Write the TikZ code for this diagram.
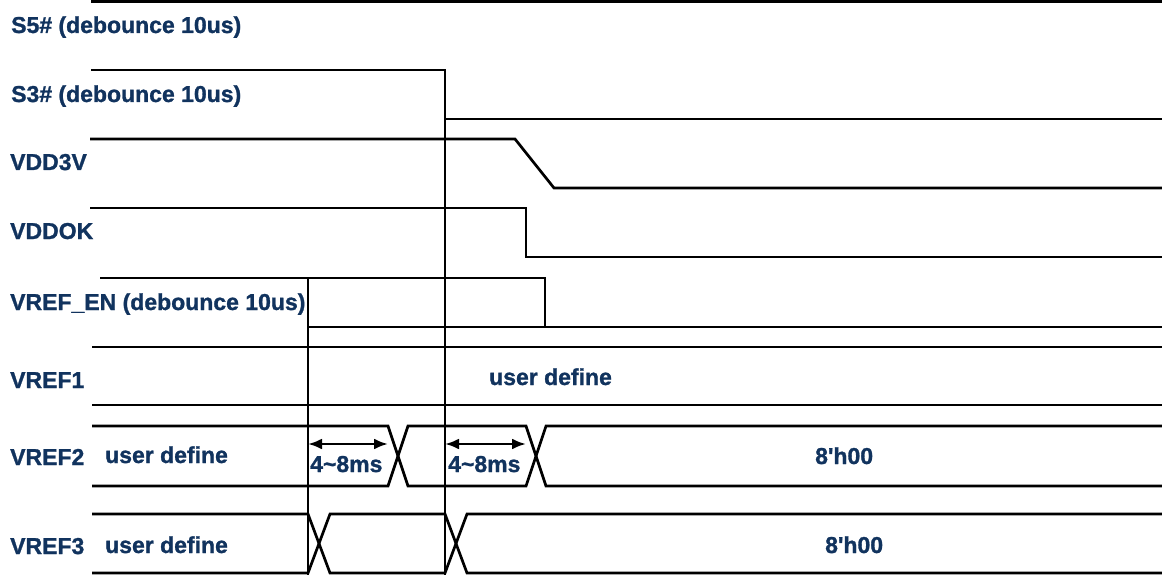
\documentclass[tikz,border=0pt]{standalone}
\usepackage{fontspec}
\setmainfont{Liberation Sans}
\newfontfamily\heavyfont[FakeBold=1.2]{Liberation Sans Bold}
\usetikzlibrary{arrows.meta}
\definecolor{lbl}{RGB}{17,51,94}
\begin{document}
\begin{tikzpicture}[x=1pt,y=-1pt,
  sig/.style={line width=2.7pt, black},
  lab/.style={font=\fontsize{23}{26}\heavyfont, text=lbl, inner sep=0pt, anchor=base west},
  dimarrow/.style={line width=2.7pt, {Latex[length=14pt,width=11pt]}-{Latex[length=14pt,width=11pt]}},
]
\useasboundingbox (0,0) rectangle (1162,575);
% signals
\draw[sig] (91,1.5) -- (1162,1.5);
\draw[sig] (91,70) -- (445,70) -- (445,575);
\draw[sig] (445,119) -- (1162,119);
\draw[sig] (90,139) -- (515,139) -- (554,188) -- (1162,188);
\draw[sig] (90,208) -- (526,208) -- (526,257) -- (1162,257);
\draw[sig] (100,278) -- (545,278) -- (545,327);
\draw[sig] (308,278) -- (308,575);
\draw[sig] (308,327) -- (1162,327);
\draw[sig] (92,347) -- (1162,347);
\draw[sig] (92,405) -- (1162,405);
\draw[sig] (92,426) -- (388,426) -- (408,486) -- (526,486) -- (546,426) -- (1162,426);
\draw[sig] (92,486) -- (388,486) -- (408,426) -- (526,426) -- (546,486) -- (1162,486);
\draw[sig] (92,514) -- (308,514) -- (330,573) -- (445,573) -- (467,514) -- (1162,514);
\draw[sig] (92,573) -- (308,573) -- (330,514) -- (445,514) -- (467,573) -- (1162,573);
% dimension arrows
\coordinate (a1) at (308,444);
\coordinate (a2) at (388,444);
\coordinate (b1) at (445,444);
\coordinate (b2) at (526,444);
\draw[dimarrow] (a1) -- (a2);
\draw[dimarrow] (b1) -- (b2);
% labels
\node[lab] (ls5) at (11,33) {S5\# (debounce 10us)};
\node[lab] (ls3) at (11,102) {S3\# (debounce 10us)};
\node[lab] (lvdd) at (10,170) {VDD3V};
\node[lab] (lok) at (10,239) {VDDOK};
\node[lab] (len) at (10,310) {VREF\_EN (debounce 10us)};
\node[lab] (lr1) at (10,388) {VREF1};
\node[lab] (lr2) at (10,465) {VREF2};
\node[lab] (lr3) at (10,554) {VREF3};
\node[lab] (u1) at (489,385) {user define};
\node[lab] (u2) at (105,463) {user define};
\node[lab] (u3) at (105,553) {user define};
\node[lab] (t1) at (310,472) {4\textasciitilde 8ms};
\node[lab] (t2) at (448,472) {4\textasciitilde 8ms};
\node[lab] (h2) at (815,464) {8\textquotesingle h00};
\node[lab] (h3) at (825,553) {8\textquotesingle h00};
\end{tikzpicture}
\end{document}
